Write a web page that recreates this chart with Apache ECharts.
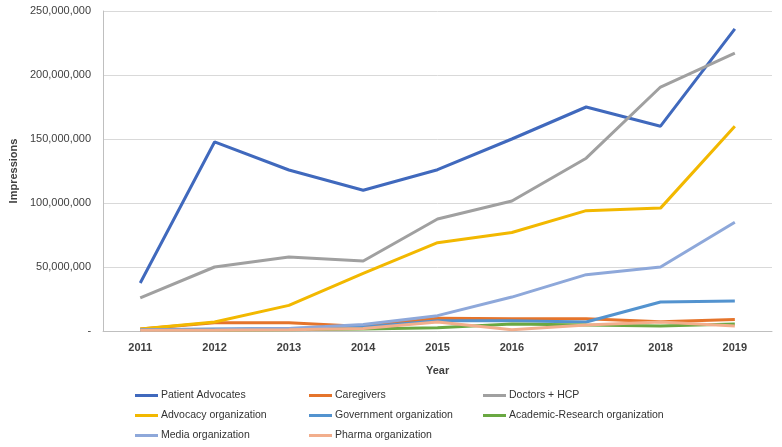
<!DOCTYPE html>
<html><head><meta charset="utf-8">
<script src="https://cdn.jsdelivr.net/npm/echarts@6/dist/echarts.min.js"></script>
<style>html,body{margin:0;padding:0;background:#fff}#c{width:782px;height:447px}</style>
</head><body><div id="c"></div>
<script>
const years = ['2011','2012','2013','2014','2015','2016','2017','2018','2019'];
const patientAdvocates = [37.5,147.7,125.8,110,126,150,175,160,236];
const caregivers = [1.5,6.5,6.5,3.5,10,9.5,9.5,7.3,9];
const doctorsHCP = [25.8,50,57.8,54.7,87.5,101.6,135,190.6,217];
const advocacyOrg = [1.5,7,20,45,69,77,94,96,160];
const governmentOrg = [1,1.5,2,3,8,8,7,22.7,23.4];
const academicOrg = [0.3,0.5,1,1.5,2.5,5.5,4.7,4,5.5];
const mediaOrg = [0.5,1,2,5,12,26.5,44,50,85];
const pharmaOrg = [0.5,0.5,1,2,7,1,4.7,7,4];
const yTicks = [0,50,100,150,200,250];

const M = 1e6;
const seriesDefs = [
  ['Patient Advocates', patientAdvocates, '#4069BD'],
  ['Caregivers', caregivers, '#E5742B'],
  ['Doctors + HCP', doctorsHCP, '#A0A0A0'],
  ['Advocacy organization', advocacyOrg, '#F2B800'],
  ['Government organization', governmentOrg, '#5393CF'],
  ['Academic-Research organization', academicOrg, '#6AA842'],
  ['Media organization', mediaOrg, '#8EA8DA'],
  ['Pharma organization', pharmaOrg, '#F2AE8C']
];
const series = seriesDefs.map(([n, d, c]) => ({
  name: n, type: 'line', data: d.map(v => v * M), symbol: 'none',
  lineStyle: { width: 3, color: c }, itemStyle: { color: c }, animation: false
}));
const font = 'Liberation Sans, Arial, sans-serif';
const legendCommon = {
  orient: 'vertical', itemWidth: 23, itemHeight: 3, itemGap: 9,
  icon: 'rect', textStyle: { fontFamily: font, fontSize: 10.5, color: '#333333', padding: [0,0,0,-2] },
  selectedMode: false
};
const chart = echarts.init(document.getElementById('c'));
chart.setOption({
  animation: false,
  grid: { left: 102, right: 10, top: 11, bottom: 116 },
  xAxis: {
    type: 'category', data: years, boundaryGap: true,
    name: 'Year', nameLocation: 'middle', nameGap: 34,
    nameTextStyle: { fontFamily: font, fontSize: 11, fontWeight: 'bold', color: '#404040' },
    axisLine: { lineStyle: { color: '#BFBFBF' } }, axisTick: { show: false },
    axisLabel: { fontFamily: font, fontSize: 11, fontWeight: 'bold', color: '#404040', margin: 11 }
  },
  yAxis: {
    type: 'value', min: yTicks[0] * M, max: yTicks[yTicks.length - 1] * M, interval: 50 * M,
    name: 'Impressions', nameLocation: 'middle', nameGap: 81, nameRotate: 90,
    nameTextStyle: { fontFamily: font, fontSize: 11, fontWeight: 'bold', color: '#404040' },
    axisLine: { show: true, lineStyle: { color: '#BFBFBF' } }, axisTick: { show: false },
    splitLine: { lineStyle: { color: '#D9D9D9' } },
    axisLabel: { fontFamily: font, fontSize: 11, color: '#404040', margin: 12,
      formatter: v => v === 0 ? '-' : v.toLocaleString('en-US') }
  },
  legend: [
    Object.assign({ left: 130, top: 385, data: ['Patient Advocates','Advocacy organization','Media organization'] }, legendCommon),
    Object.assign({ left: 304, top: 385, data: ['Caregivers','Government organization','Pharma organization'] }, legendCommon),
    Object.assign({ left: 478, top: 385, data: ['Doctors + HCP','Academic-Research organization'] }, legendCommon)
  ],
  series: series
});
</script></body></html>
